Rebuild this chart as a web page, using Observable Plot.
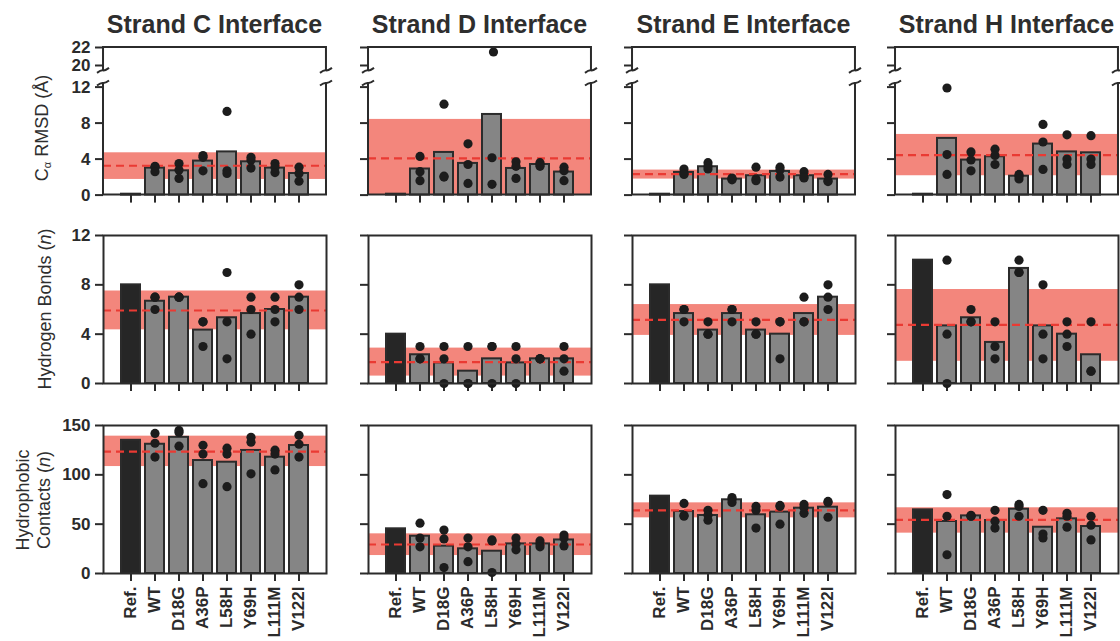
<!DOCTYPE html>
<html><head><meta charset="utf-8">
<script src="https://cdn.jsdelivr.net/npm/d3@7"></script>
<script src="https://cdn.jsdelivr.net/npm/@observablehq/plot@0.6"></script>
<style>
html,body{margin:0;padding:0;background:#fff;overflow:hidden;}
#chart{position:relative;width:1120px;height:641px;font-family:"Liberation Sans",Arial,Helvetica,sans-serif;color:#2e2e2e;}
#chart svg{position:absolute;overflow:visible;}
.ptitle{position:absolute;font-weight:bold;font-size:25px;line-height:24px;text-align:center;white-space:nowrap;transform:translateX(-50%);}
.ylab{position:absolute;font-size:18px;white-space:nowrap;text-align:center;line-height:21px;transform:translate(-50%,-50%) rotate(-90deg);}
.ylab sub{font-size:11px;vertical-align:-3px;}
g[aria-label$="axis tick"]{stroke-width:2px;}
</style>
</head><body><div id="chart"></div>
<script>
const categories = ["Ref.", "WT", "D18G", "A36P", "L58H", "Y69H", "L111M", "V122I"];
const strandTitles = ["Strand C Interface", "Strand D Interface", "Strand E Interface", "Strand H Interface"];

// Cα RMSD (Å)
const rmsdTicksUpper = [20, 22];
const rmsdTicksLower = [0, 4, 8, 12];
const rmsdBars = [
  [0.1, 3.0, 2.7, 3.78, 4.8, 3.7, 3.0, 2.4],
  [0.1, 2.9, 4.74, 3.52, 8.96, 2.96, 3.4, 2.56],
  [0.1, 2.52, 3.15, 1.78, 2.15, 2.63, 2.15, 1.78],
  [0.1, 6.3, 3.89, 4.26, 2.1, 5.67, 4.8, 4.7]
];
const rmsdReps = [
  [[], [3.2, 3.1, 2.6], [3.5, 2.8, 1.85], [4.4, 4.2, 2.7], [9.3, 2.7, 2.4], [4.2, 3.9, 3.0], [3.5, 3.1, 2.5], [3.1, 2.4, 1.55]],
  [[], [4.3, 2.6, 1.6], [10.1, 2.1, 2.0], [5.7, 3.4, 1.3], [21.5, 4.15, 1.2], [3.7, 3.2, 1.85], [3.6, 3.4, 3.2], [3.1, 2.7, 1.6]],
  [[], [2.9, 2.4, 2.3], [3.6, 3.2, 2.9], [1.9, 1.8, 1.7], [3.1, 1.8, 1.6], [3.1, 2.8, 2.0], [2.6, 2.0, 1.9], [2.3, 1.6, 1.5]],
  [[], [11.9, 4.5, 2.3], [4.8, 3.9, 2.7], [5.1, 4.4, 3.4], [2.3, 2.1, 1.8], [7.85, 5.9, 2.85], [6.7, 4.0, 3.4], [6.6, 4.0, 3.4]]
];
const rmsdBand = [[1.74, 4.7], [-0.3, 8.41], [1.78, 2.78], [2.15, 6.74]];
const rmsdAvg = [3.26, 4.07, 2.33, 4.44];

// Hydrogen bonds (n)
const hbTicks = [0, 4, 8, 12];
const hbBars = [
  [8, 6.67, 7, 4.33, 5.33, 5.67, 6, 7],
  [4, 2.33, 1.67, 1, 2, 1.67, 2, 2],
  [8, 5.67, 4.33, 5.67, 4.33, 4, 5.67, 7],
  [10, 4.67, 5.33, 3.33, 9.33, 4.67, 4, 2.33]
];
const hbReps = [
  [[], [7, 7, 6], [7, 7, 7], [5, 5, 3], [9, 5, 2], [7, 6, 4], [7, 6, 5], [8, 7, 6]],
  [[], [3, 2, 2], [3, 2, 0], [3, 0, 0], [3, 3, 0], [3, 2, 0], [2, 2, 2], [3, 2, 1]],
  [[], [6, 6, 5], [5, 4, 4], [6, 6, 5], [5, 4, 4], [5, 5, 2], [7, 5, 5], [8, 7, 6]],
  [[], [10, 4, 0], [6, 5, 5], [5, 3, 2], [10, 9, 9], [8, 4, 2], [5, 4, 3], [5, 1, 1]]
];
const hbBand = [[4.35, 7.5], [0.6, 2.87], [3.9, 6.4], [1.8, 7.62]];
const hbAvg = [5.92, 1.73, 5.16, 4.76];

// Hydrophobic contacts (n)
const hcTicks = [0, 50, 100, 150];
const hcBars = [
  [135, 131, 138, 114.5, 112.8, 124.7, 117.9, 129.7],
  [45.3, 37.8, 27.7, 25, 22.6, 30, 30, 34],
  [78.4, 62.8, 58.8, 74.7, 59.5, 62.2, 66.2, 67.2],
  [64.5, 52.7, 58.4, 53.7, 65.2, 46.9, 55.4, 47.6]
];
const hcReps = [
  [[], [142, 132, 118], [145, 143, 129], [130, 121, 91], [127, 121, 88], [138, 133, 101], [125, 121, 105], [140, 131, 118]],
  [[], [51, 36, 27], [44, 35, 6], [36, 27, 12], [34, 33, 1], [36, 30, 24], [33, 30, 27], [39, 36, 28]],
  [[], [71, 59, 58], [64, 59, 54], [77, 75, 72], [68, 64, 46], [69, 68, 50], [70, 67, 61], [73, 72, 57]],
  [[], [80, 58, 19], [59, 58, 58], [64, 53, 46], [70, 68, 58], [64, 40, 36], [61, 58, 47], [58, 49, 34]]
];
const hcBand = [[108.4, 139.2], [18.2, 40.2], [56.4, 71.6], [40.9, 66.6]];
const hcAvg = [123.6, 29.4, 63.9, 54.4];

// ---- layout ----
const FONT = "'Liberation Sans', Arial, Helvetica, sans-serif";
const INK = "#2b2b2b";
const frameLeft = [103, 368, 632, 895];
const FW = 223, ML = 55, MR = 12;
const chart = document.getElementById("chart");

function brokenFrame(which) {
  return (index, scales, values, dim) => {
    const g = d3.create("svg:g").attr("fill", "none").attr("stroke", INK).attr("stroke-width", 2);
    const x0 = dim.marginLeft, x1 = dim.width - dim.marginRight;
    const y0 = dim.marginTop, y1 = dim.height - dim.marginBottom;
    if (which === "lower") {
      g.append("path").attr("d", `M${x0},${y0}V${y1}H${x1}V${y0}`);
      for (const x of [x0, x1]) g.append("path").attr("d", `M${x - 6},${y0 + 2.5}Q${x - 2},${y0 - 0.5} ${x},${y0}T${x + 6},${y0 - 2.5}`);
    } else {
      g.append("path").attr("d", `M${x0},${y1}V${y0}H${x1}V${y1}`);
      for (const x of [x0, x1]) g.append("path").attr("d", `M${x - 6},${y1 + 2.5}Q${x - 2},${y1 - 0.5} ${x},${y1}T${x + 6},${y1 - 2.5}`);
    }
    return g.node();
  };
}

function panel({col, top, bottom, domain, ticks, bars, reps, band, avg, xAxis, xLabels, frame, mt, mb}) {
  const barData = bars ? categories.map((c, i) => ({cat: c, v: bars[i]})) : [];
  const dotData = reps.flatMap((arr, i) => arr.map(v => ({cat: categories[i], v})))
    .filter(d => d.v >= domain[0] && d.v <= domain[1]);
  const marks = [];
  if (band) marks.push(Plot.rect([band], {y1: d => d[0], y2: d => d[1], fill: "#f3867c", clip: true}));
  if (bars) marks.push(Plot.barY(barData, {x: "cat", y: "v",
    fill: d => d.cat === "Ref." ? "#262626" : "#858585", stroke: INK, strokeWidth: 2}));
  if (avg != null) marks.push(Plot.ruleY([avg], {stroke: "#ea3a33", strokeWidth: 2.2, strokeDasharray: "8,5"}));
  marks.push(Plot.dot(dotData, {x: "cat", y: "v", r: 4.6, fill: "#1c1c1c"}));
  if (frame === "box") marks.push(Plot.frame({stroke: INK, strokeWidth: 2}));
  else marks.push(brokenFrame(frame));
  const svg = Plot.plot({
    width: FW + ML + MR, height: (bottom - top) + mt + mb,
    marginLeft: ML, marginRight: MR, marginTop: mt, marginBottom: mb,
    style: {background: "transparent", fontFamily: FONT, fontSize: "17px", fontWeight: "bold", color: INK, overflow: "visible"},
    x: {domain: categories, paddingInner: 0.19, paddingOuter: 0.63, axis: xAxis ? "bottom" : null,
        tickSize: 8, tickPadding: 5, tickRotate: xLabels ? -90 : 0,
        tickFormat: xLabels ? (d => d) : (() => ""), label: null},
    y: {domain, ticks, tickSize: 8, tickPadding: 5,
        tickFormat: col === 0 ? (d => String(d)) : (() => ""), label: null},
    marks
  });
  svg.style.left = (frameLeft[col] - ML) + "px";
  svg.style.top = (top - mt) + "px";
  chart.appendChild(svg);
}

for (let c = 0; c < 4; c++) {
  // row 1: broken RMSD axis
  panel({col: c, top: 47, bottom: 70.4, domain: [19.4, 22], ticks: rmsdTicksUpper,
         bars: null, reps: rmsdReps[c], band: null, avg: null, xAxis: false, xLabels: false,
         frame: "upper", mt: 10, mb: 6});
  panel({col: c, top: 83.4, bottom: 195, domain: [0, 12.4], ticks: rmsdTicksLower,
         bars: rmsdBars[c], reps: rmsdReps[c], band: rmsdBand[c], avg: rmsdAvg[c], xAxis: true, xLabels: false,
         frame: "lower", mt: 6, mb: 15});
  // row 2: hydrogen bonds
  panel({col: c, top: 235, bottom: 383, domain: [0, 12], ticks: hbTicks,
         bars: hbBars[c], reps: hbReps[c], band: hbBand[c], avg: hbAvg[c], xAxis: true, xLabels: false,
         frame: "box", mt: 10, mb: 15});
  // row 3: hydrophobic contacts
  panel({col: c, top: 425, bottom: 573, domain: [0, 150], ticks: hcTicks,
         bars: hcBars[c], reps: hcReps[c], band: hcBand[c], avg: hcAvg[c], xAxis: true, xLabels: true,
         frame: "box", mt: 10, mb: 75});
  const t = document.createElement("div");
  t.className = "ptitle";
  t.textContent = strandTitles[c];
  t.style.left = (frameLeft[c] + FW / 2) + "px";
  t.style.top = "12px";
  chart.appendChild(t);
}

function yLabel(html, x, y) {
  const d = document.createElement("div");
  d.className = "ylab";
  d.innerHTML = html;
  d.style.left = x + "px";
  d.style.top = y + "px";
  chart.appendChild(d);
}
yLabel("C<sub>α</sub> RMSD (Å)", 45, 128);
yLabel("Hydrogen Bonds (<i>n</i>)", 45, 309);
yLabel("Hydrophobic<br>Contacts (<i>n</i>)", 34, 500);
</script>
</body></html>
